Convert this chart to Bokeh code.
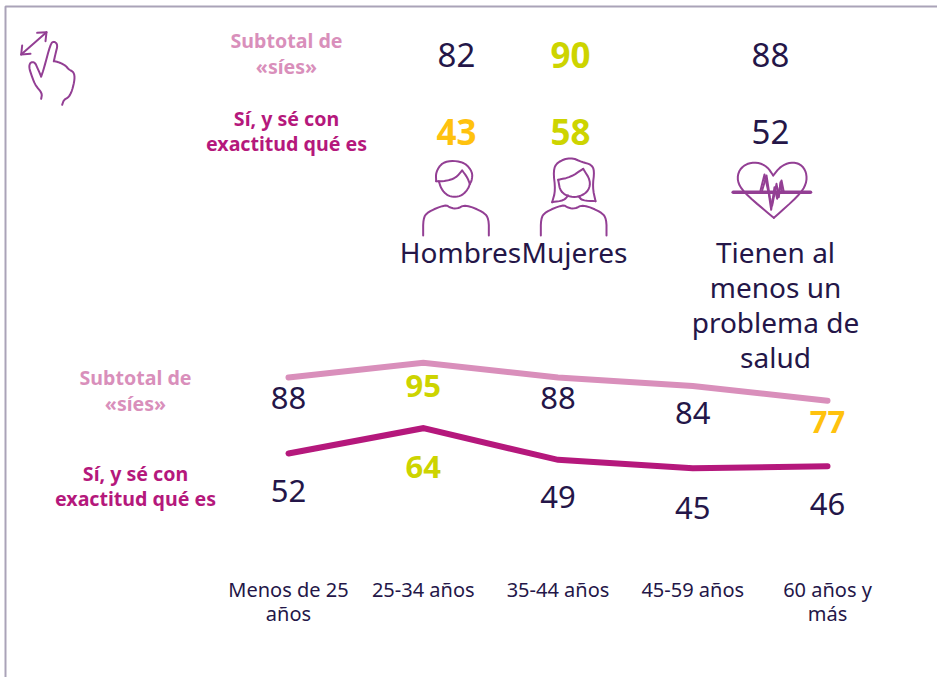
from bokeh.embed import file_html
from bokeh.resources import INLINE
from bokeh.plotting import figure
from bokeh.models import Range1d, FixedTicker, ColumnDataSource
from bokeh.core.properties import value

FONT = "Noto Sans"
NAVY, PINK, MAGENTA, YELLOW, LIME, PURPLE, FRAME = "#241648", "#d98fbb", "#b5187c", "#ffc20e", "#cdd400", "#933f94", "#aaa3b8"

# --- data ---
age_groups = ["Menos de 25\naños", "25-34 años", "35-44 años", "45-59 años", "60 años y\nmás"]
subtotal_sies = [88, 95, 88, 84, 77]
exactitud = [52, 64, 49, 45, 46]
subtotal_colors = [NAVY, LIME, NAVY, NAVY, YELLOW]
exactitud_colors = [NAVY, LIME, NAVY, NAVY, NAVY]
subtotal_label_offsets = [20, 23, 20, 27, 21]
exactitud_label_offsets = [37, 39, 37, 40, 38]

top_groups = ["Hombres", "Mujeres", "Tienen al\nmenos un\nproblema de\nsalud"]
top_subtotal = [82, 90, 88]
top_exactitud = [43, 58, 52]
top_subtotal_colors = [NAVY, LIME, NAVY]
top_exactitud_colors = [YELLOW, LIME, NAVY]
top_x = [456, 570, 770]
top_label_x = [460, 574, 775]

W, H = 937, 677
X0, XSTEP = 288, 134.75          # pixel position of first category and step
Y52, YUNIT = 453, 2.11           # pixel position of value 52 and pixels per unit
xs = list(range(len(age_groups)))

p = figure(width=W, height=H, output_backend="svg", toolbar_location=None,
           x_range=Range1d(-X0 / XSTEP, (W - X0) / XSTEP),
           y_range=Range1d(52 + (Y52 - H) / YUNIT, 52 + Y52 / YUNIT),
           min_border=0, min_border_left=0, min_border_right=0, min_border_top=0, min_border_bottom=0,
           outline_line_color=None, background_fill_color="white", border_fill_color="white")
p.styles = {"position": "absolute", "left": "0px", "top": "0px"}
p.grid.visible = False
p.yaxis.visible = False
p.extra_x_ranges = {"px": Range1d(0, W)}
p.extra_y_ranges = {"px": Range1d(H, 0)}

# category axis inside the plot
ax = p.xaxis[0]
ax.ticker = FixedTicker(ticks=xs)
ax.major_label_overrides = {i: t for i, t in enumerate(age_groups)}
ax.fixed_location = 52 + (Y52 - 569) / YUNIT
ax.axis_line_color = None
ax.major_tick_line_color = None
ax.minor_tick_line_color = None
ax.major_label_text_font = FONT
ax.major_label_text_font_size = "20px"
ax.major_label_text_line_height = 0.92
ax.major_label_text_color = NAVY
ax.major_label_standoff = 0

# series
p.line(xs, subtotal_sies, line_color=PINK, line_width=6, line_cap="round", line_join="miter")
p.line(xs, exactitud, line_color=MAGENTA, line_width=6, line_cap="round", line_join="miter")


def value_labels(vals, colors, offsets):
    src = ColumnDataSource(dict(x=xs, y=vals, t=[str(v) for v in vals], c=colors, o=offsets,
                                w=["normal" if c == NAVY else "bold" for c in colors]))
    p.text("x", "y", text="t", source=src, y_offset="o", text_color="c", text_font=value(FONT),
           text_font_style="w", text_font_size="31px", text_align="center", text_baseline="middle")


value_labels(subtotal_sies, subtotal_colors, subtotal_label_offsets)
value_labels(exactitud, exactitud_colors, exactitud_label_offsets)


def label(x, y, t, color, size, bold=False):
    p.text([x], [y], text=[t], text_color=color, text_font=value(FONT), text_font_size=size,
           text_font_style="bold" if bold else "normal", text_align="center", text_baseline="middle",
           x_range_name="px", y_range_name="px")


for x, t, c in zip(top_x, top_subtotal, top_subtotal_colors):
    label(x, 54, str(t), c, "35px" if c != NAVY else "33px", c != NAVY)
for x, t, c in zip(top_x, top_exactitud, top_exactitud_colors):
    label(x, 131, str(t), c, "35px" if c != NAVY else "33px", c != NAVY)
for x, t in zip(top_label_x, top_groups):
    for i, line in enumerate(t.split("\n")):
        label(x, 251 + i * 35, line, NAVY, "28px")

for cx, y1, y2, y3, y4 in [(286, 40, 66, 118, 143), (135, 377, 403, 473, 498)]:
    label(cx, y1, "Subtotal de", PINK, "19.6px", True)
    label(cx, y2, "«síes»", PINK, "19.6px", True)
    label(cx, y3, "Sí, y sé con", MAGENTA, "19.6px", True)
    label(cx, y4, "exactitud qué es", MAGENTA, "19.6px", True)


def smooth(points, rounds=2):
    pts = list(points)
    for _ in range(rounds):
        out = [pts[0]]
        for a, b in zip(pts[:-1], pts[1:]):
            out.append((a[0] * .75 + b[0] * .25, a[1] * .75 + b[1] * .25))
            out.append((a[0] * .25 + b[0] * .75, a[1] * .25 + b[1] * .75))
        out.append(pts[-1])
        pts = out
    return pts


def path(points, ox, oy, width=2, color=PURPLE, curve=True):
    pts = smooth(points) if curve else points
    p.line([ox + a / 3 for a, _ in pts], [oy + b / 3 for _, b in pts], line_color=color, line_width=width,
           line_join="round", line_cap="round", x_range_name="px", y_range_name="px")


# frame
p.line([5, 5, W], [H, 6, 6], line_color=FRAME, line_width=2, x_range_name="px", y_range_name="px")

# hand icon
path([(122, 295), (125, 278), (105, 255), (95, 230), (85, 200), (90, 185), (103, 185), (112, 205), (122, 228)], 0, 0)
path([(122, 228), (130, 205), (150, 130), (160, 122), (172, 132), (165, 160), (160, 182)], 0, 0)
path([(160, 182), (175, 185), (195, 195), (205, 207), (220, 215), (223, 235), (215, 270), (205, 290), (190, 298),
      (185, 313)], 0, 0)
path([(62, 162), (138, 95)], 0, 0, curve=False)
path([(110, 97), (138, 95), (135, 122)], 0, 0, curve=False)
path([(65, 135), (62, 162), (90, 160)], 0, 0, curve=False)

# man icon
OX, OY = 400, 130
SH = [(68, 315), (68, 265), (80, 245), (135, 222), (150, 232), (170, 235), (195, 222), (250, 245), (265, 265), (265, 315)]
path(SH, OX, OY)
path([(115, 152), (122, 175), (140, 195), (162, 200), (185, 195), (203, 175), (208, 160)], OX, OY)
path([(107, 152), (106, 125), (125, 96), (160, 90), (195, 98), (216, 125), (214, 150), (208, 160)], OX, OY)
path([(208, 160), (200, 140), (185, 120)], OX, OY)
path([(185, 120), (165, 143), (135, 152), (107, 152)], OX, OY)

# woman icon
path([(a + 353, b) for a, b in SH], OX, OY)
path([(473, 148), (510, 140), (548, 115)], OX, OY)
path([(548, 115), (570, 150), (565, 180), (540, 198), (510, 200), (480, 185), (473, 148)], OX, OY)
path([(503, 195), (490, 210), (455, 215)], OX, OY)
path([(455, 215), (465, 180), (458, 120), (470, 95), (510, 80), (545, 95), (572, 102), (582, 120), (576, 170), (585, 212)], OX, OY)
path([(585, 212), (545, 210), (535, 198)], OX, OY)

# heart icon
path([(1120, 262), (1040, 195), (1012, 160), (1012, 125), (1035, 100), (1070, 95), (1100, 108), (1118, 135)], OX, OY)
path([(1118, 135), (1140, 108), (1170, 95), (1200, 100), (1218, 125), (1218, 160), (1195, 195), (1120, 262)], OX, OY)
path([(998, 185), (1230, 185)], OX, OY, 3.5, curve=False)
path([(1080, 180), (1092, 132), (1105, 190), (1112, 238), (1122, 170), (1130, 205), (1143, 150), (1150, 185)], OX, OY, curve=False)
path([(1085, 180), (1098, 135), (1108, 200), (1115, 225), (1128, 160), (1135, 200), (1140, 155), (1145, 185)], OX, OY, curve=False)

open("out.html", "w").write(file_html(p, INLINE))
